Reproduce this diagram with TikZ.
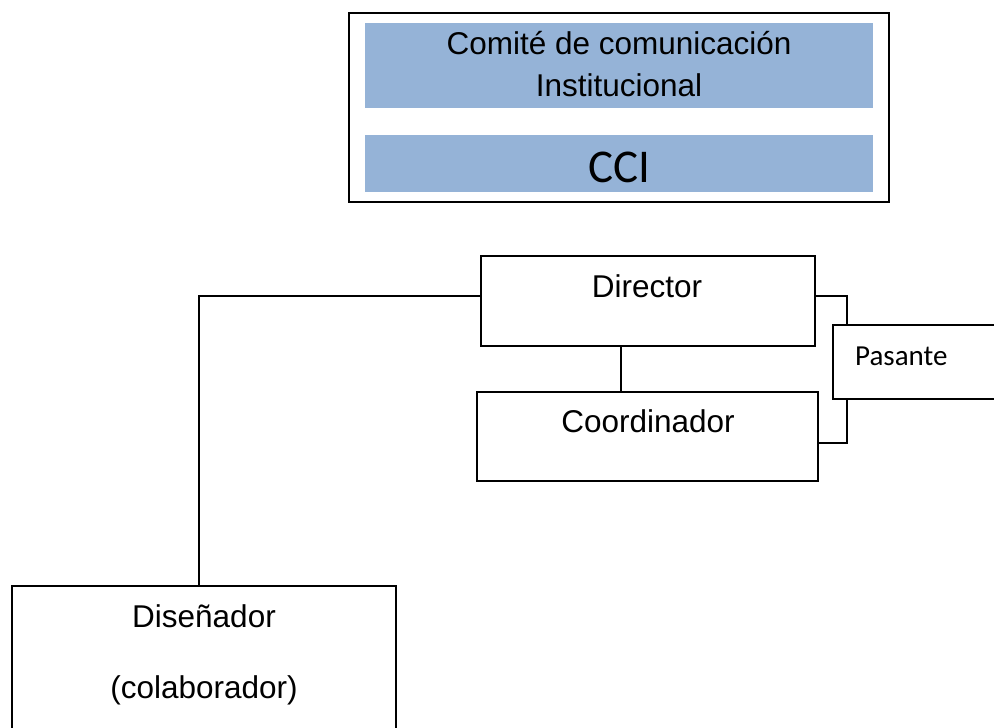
\documentclass[tikz,border=0pt]{standalone}
\usepackage{fontspec}
\setmainfont{Liberation Sans}
\newfontfamily\calibri{Carlito}
\definecolor{barblue}{HTML}{95B3D7}
\begin{document}
\begin{tikzpicture}[x=1pt,y=-1pt,
  box/.style={draw=black, line width=1.9pt, rectangle, inner sep=0pt},
  bar/.style={fill=barblue, rectangle, inner sep=0pt},
  lbl/.style={anchor=base, inner sep=0pt, font=\fontsize{31.5}{42}\selectfont},
  link/.style={line width=1.9pt}]
\useasboundingbox (0,0) rectangle (994,728);
\fill[white] (0,0) rectangle (994,728);

% committee header
\node[box, minimum width=540pt, minimum height=189pt] (cci) at (619,107.5) {};
\node[bar, minimum width=508pt, minimum height=85pt] (bar1) at (619,65.5) {};
\node[bar, minimum width=508pt, minimum height=57pt] (bar2) at (619,163.5) {};
\node[lbl] (t1) at (619,54) {Comité de comunicación};
\node[lbl] (t2) at (619,96) {Institucional};
\node[lbl, font=\calibri\fontsize{47}{50}\selectfont] (t3) at (619,182) {CCI};

% organisation boxes
\node[box, minimum width=334pt, minimum height=90pt] (dir) at (648,301) {};
\node[lbl] (dirT) at (647,297) {Director};
\node[box, minimum width=341pt, minimum height=89pt] (coo) at (647.5,436.5) {};
\node[lbl] (cooT) at (648,432) {Coordinador};
\node[box, minimum width=170pt, minimum height=74pt] (pas) at (918,362) {};
\node[anchor=base west, inner sep=0pt, font=\calibri\fontsize{29}{30}\selectfont] (pasT) at (855,365) {Pasante};
\node[box, minimum width=384pt, minimum height=154pt] (dis) at (204,663) {};
\node[lbl] (disT1) at (204,627) {Diseñador};
\node[lbl] (disT2) at (204,698) {(colaborador)};

% connectors
\coordinate (jL) at (199,296);
\coordinate (jM) at (621,0);
\coordinate (jR) at (847,296);
\coordinate (jR2) at (847,443);
\draw[link] (dir.west |- jL) -- (jL) -- (dis.north -| jL);
\draw[link] (dir.south -| jM) -- (coo.north -| jM);
\draw[link] (dir.east |- jR) -- (jR) -- (pas.north -| jR);
\draw[link] (pas.south -| jR2) -- (jR2) -- (coo.east |- jR2);
\end{tikzpicture}
\end{document}
